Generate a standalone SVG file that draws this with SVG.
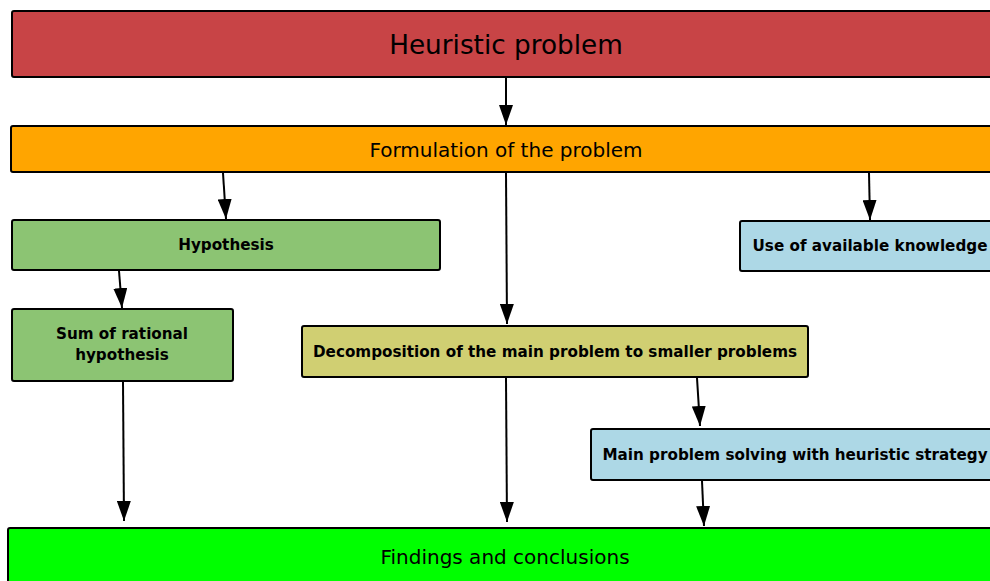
<svg xmlns="http://www.w3.org/2000/svg" width="990" height="581" viewBox="0 0 990 581">
<style>
.box{stroke:#000;stroke-width:2;}
.t{font-family:"DejaVu Sans",Verdana,sans-serif;fill:#000;text-anchor:middle;}
.b{font-weight:bold;font-size:15.2px;}
.c{stroke:#000;stroke-width:2;fill:none;marker-end:url(#ah);}
</style>
<defs>
<marker id="ah" viewBox="0 0 20 14" refX="20" refY="7" markerWidth="20" markerHeight="14" markerUnits="userSpaceOnUse" orient="auto">
<path d="M0,0 L20,7 L0,14 Z" fill="#000"/>
</marker>
</defs>
<rect width="990" height="581" fill="#fff"/>
<g id="connectors">
<line class="c" x1="506" y1="78" x2="506" y2="125"/>
<line class="c" x1="223" y1="173" x2="226" y2="219"/>
<line class="c" x1="869" y1="173" x2="870" y2="220"/>
<line class="c" x1="506" y1="173" x2="507" y2="324"/>
<line class="c" x1="119" y1="271" x2="122" y2="308"/>
<line class="c" x1="123" y1="382" x2="124" y2="521"/>
<line class="c" x1="506" y1="378" x2="507" y2="522"/>
<line class="c" x1="697" y1="378" x2="700" y2="426"/>
<line class="c" x1="702" y1="481" x2="704" y2="526"/>
</g>
<g id="heuristic">
<rect class="box" x="12" y="11" width="990" height="66" rx="2" fill="#C84446"/>
<text class="t" x="506" y="54" font-size="26.3">Heuristic problem</text>
</g>
<g id="formulation">
<rect class="box" x="11" y="126" width="990" height="46" rx="2" fill="#FFA500"/>
<text class="t" x="506" y="157" font-size="20">Formulation of the problem</text>
</g>
<g id="hypothesis">
<rect class="box" x="12" y="220" width="428" height="50" rx="2" fill="#8CC473"/>
<text class="t b" x="226" y="250">Hypothesis</text>
</g>
<g id="knowledge">
<rect class="box" x="740" y="221" width="260" height="50" rx="2" fill="#ADD8E6"/>
<text class="t b" x="870" y="251">Use of available knowledge</text>
</g>
<g id="sum">
<rect class="box" x="12" y="309" width="221" height="72" rx="2" fill="#8CC473"/>
<text class="t b" x="122" y="339">Sum of rational</text>
<text class="t b" x="122" y="360">hypothesis</text>
</g>
<g id="decomposition">
<rect class="box" x="302" y="326" width="506" height="51" rx="2" fill="#D0CF72"/>
<text class="t b" x="555" y="357">Decomposition of the main problem to smaller problems</text>
</g>
<g id="mainproblem">
<rect class="box" x="591" y="429" width="410" height="51" rx="2" fill="#ADD8E6"/>
<text class="t b" x="795" y="460">Main problem solving with heuristic strategy</text>
</g>
<g id="findings">
<rect class="box" x="8" y="528" width="995" height="70" rx="2" fill="#00FF00"/>
<text class="t" x="505" y="564" font-size="20">Findings and conclusions</text>
</g>
</svg>
